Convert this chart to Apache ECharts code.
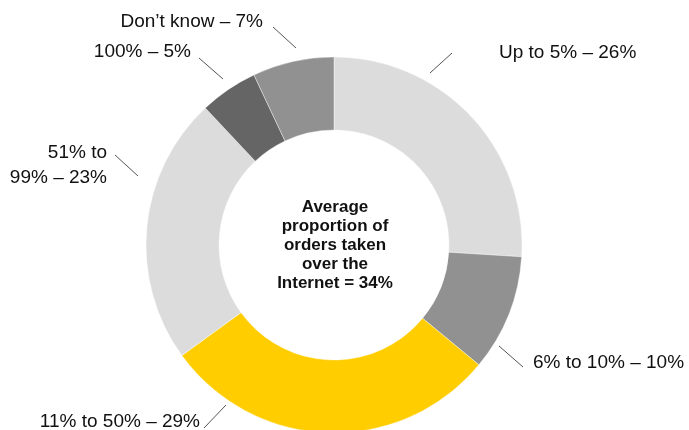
<!DOCTYPE html>
<html>
<head>
<meta charset="utf-8">
<script src="https://cdn.jsdelivr.net/npm/echarts@6/dist/echarts.min.js"></script>
<style>
  html, body { margin: 0; padding: 0; background: #fff; }
  #chart { width: 689px; height: 430px; }
</style>
</head>
<body>
<div id="chart"></div>
<script>
// Share of online orders, clockwise from 12 o'clock
const categories = ['Up to 5%', '6% to 10%', '11% to 50%', '51% to\n99%', '100%', 'Don\u2019t know'];
const values = [26, 10, 29, 23, 5, 7];
const centerLines = ['Average', 'proportion of', 'orders taken', 'over the', 'Internet = 34%'];

const sliceColors = ['#dcdcdc', '#919191', '#ffcd00', '#dcdcdc', '#656565', '#919191'];

// Where each callout sits: text anchor and a short leader stroke
const callouts = [
  { x: 499, y: 53,  align: 'left',  line: [[430, 73], [452, 53]] },
  { x: 533, y: 363, align: 'left',  line: [[499, 346], [523, 367]] },
  { x: 200, y: 422, align: 'right', line: [[226, 405], [204, 428]] },
  { x: 107, y: 165, align: 'right', line: [[115, 155], [138, 176]] },
  { x: 191, y: 52,  align: 'right', line: [[199, 58], [223, 79]] },
  { x: 263, y: 22,  align: 'right', line: [[273, 27], [296, 48]] }
];

const FONT = '"Liberation Sans", Arial, Helvetica, sans-serif';

const chart = echarts.init(document.getElementById('chart'), null, { renderer: 'canvas' });

chart.setOption({
  backgroundColor: '#ffffff',
  animation: false,
  series: [{
    type: 'pie',
    center: [334, 245],
    radius: [115, 188],
    startAngle: 90,
    clockwise: true,
    avoidLabelOverlap: false,
    silent: true,
    data: categories.map((name, i) => ({
      name,
      value: values[i],
      itemStyle: { color: sliceColors[i] }
    })),
    itemStyle: { borderColor: '#ffffff', borderWidth: 0.4 },
    label: {
      show: true,
      position: 'outside',
      formatter: p => p.name + ' \u2013 ' + p.value + '%',
      color: '#111111',
      fontFamily: FONT,
      fontSize: 19,
      lineHeight: 25
    },
    labelLine: {
      show: true,
      length: 10,
      length2: 10,
      lineStyle: { color: '#555555', width: 1 }
    },
    labelLayout: p => {
      const c = callouts[p.dataIndex];
      return {
        x: c.x,
        y: c.y,
        align: c.align,
        verticalAlign: 'middle',
        labelLinePoints: c.line
      };
    }
  }],
  graphic: [{
    type: 'text',
    x: 335,
    y: 245,
    style: {
      text: centerLines.join('\n'),
      align: 'center',
      verticalAlign: 'middle',
      fill: '#111111',
      font: 'bold 17px ' + FONT,
      lineHeight: 19
    }
  }]
});
</script>
</body>
</html>
